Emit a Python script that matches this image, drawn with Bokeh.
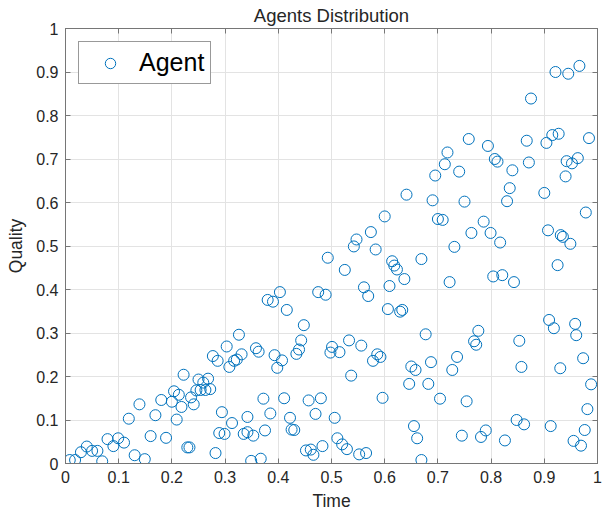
from bokeh.plotting import figure
from bokeh.models import (LinearAxis, FixedTicker, CustomJSTickFormatter, Legend,
                          LegendItem, Range1d)
from bokeh.embed import file_html
from bokeh.resources import INLINE

# ---- data ----
agent_time = [
    0.008, 0.018, 0.029, 0.040, 0.050, 0.060, 0.069, 0.079, 0.090, 0.099,
    0.110, 0.119, 0.130, 0.139, 0.149, 0.160, 0.169, 0.180, 0.189, 0.200,
    0.204, 0.209, 0.213, 0.218, 0.222, 0.229, 0.233, 0.236, 0.241, 0.246,
    0.250, 0.254, 0.259, 0.263, 0.268, 0.272, 0.277, 0.282, 0.286, 0.289,
    0.294, 0.299, 0.303, 0.308, 0.313, 0.317, 0.322, 0.326, 0.331, 0.335,
    0.342, 0.342,
    0.416, 0.448, 0.443, 0.358, 0.363, 0.439, 0.434, 0.393, 0.407, 0.398,
    0.501, 0.498, 0.515, 0.533, 0.556, 0.586, 0.592, 0.578, 0.537, 0.606,
    0.629, 0.633, 0.650, 0.658, 0.646, 0.596, 0.372, 0.411, 0.457, 0.480,
    0.385, 0.422, 0.470, 0.506, 0.375, 0.353, 0.425, 0.430, 0.511, 0.520,
    0.529, 0.655, 0.661, 0.452, 0.461, 0.466, 0.483, 0.552, 0.565, 0.349,
    0.367, 0.669,
    0.909, 0.918, 0.958, 0.960, 0.677, 0.776, 0.768, 0.772, 0.853, 0.736,
    0.687, 0.727, 0.857, 0.930, 0.973, 0.682, 0.988, 0.704, 0.754, 0.981,
    0.848, 0.862, 0.912, 0.745, 0.781, 0.790, 0.826, 0.976, 0.955, 0.969,
    0.641, 0.600, 0.574, 0.547, 0.542, 0.583, 0.493, 0.614, 0.618, 0.623,
    0.669, 0.525, 0.637, 0.609, 0.561, 0.569, 0.403, 0.380, 0.390, 0.475,
    0.489,
    0.695, 0.740, 0.713, 0.840, 0.940, 0.952, 0.835, 0.900, 0.690, 0.750,
    0.830, 0.978, 0.700, 0.709, 0.786, 0.763, 0.799, 0.817, 0.907, 0.931,
    0.935, 0.949, 0.731, 0.925, 0.722, 0.804, 0.821, 0.843,
    0.921, 0.945, 0.966, 0.875, 0.758, 0.794, 0.867, 0.904, 0.915, 0.927,
    0.984, 0.718, 0.807, 0.812, 0.871, 0.942, 0.963,
]
agent_quality = [
    0.008, 0.008, 0.026, 0.039, 0.029, 0.029, 0.005, 0.056, 0.040, 0.058,
    0.048, 0.103, 0.019, 0.136, 0.010, 0.063, 0.111, 0.146, 0.059, 0.142,
    0.166, 0.101, 0.158, 0.130, 0.204, 0.037, 0.037, 0.152, 0.136, 0.168,
    0.193, 0.169, 0.186, 0.169, 0.195, 0.171, 0.247, 0.024, 0.236, 0.070,
    0.118, 0.068, 0.269, 0.222, 0.093, 0.236, 0.239, 0.296, 0.251, 0.068,
    0.072, 0.107,
    0.353, 0.318, 0.283, 0.265, 0.257, 0.262, 0.252, 0.249, 0.237, 0.220,
    0.268, 0.255, 0.256, 0.283, 0.271, 0.251, 0.245, 0.236, 0.202, 0.355,
    0.349, 0.353, 0.223, 0.215, 0.183, 0.151, 0.149, 0.150, 0.145, 0.150,
    0.115, 0.105, 0.114, 0.105, 0.076, 0.064, 0.078, 0.077, 0.058, 0.044,
    0.033, 0.086, 0.058, 0.030, 0.032, 0.020, 0.040, 0.021, 0.024, 0.006,
    0.011, 0.008,
    0.330, 0.311, 0.321, 0.295, 0.297, 0.305, 0.281, 0.273, 0.282, 0.245,
    0.233, 0.215, 0.222, 0.219, 0.242, 0.183, 0.182, 0.149, 0.143, 0.125,
    0.100, 0.090, 0.086, 0.064, 0.061, 0.076, 0.053, 0.077, 0.052, 0.041,
    0.618, 0.568, 0.532, 0.515, 0.499, 0.492, 0.473, 0.465, 0.455, 0.446,
    0.470, 0.445, 0.424, 0.408, 0.405, 0.385, 0.394, 0.376, 0.372, 0.394,
    0.388,
    0.662, 0.671, 0.688, 0.674, 0.660, 0.690, 0.633, 0.622, 0.605, 0.602,
    0.603, 0.577, 0.562, 0.560, 0.556, 0.530, 0.530, 0.508, 0.536, 0.525,
    0.521, 0.505, 0.498, 0.456, 0.417, 0.430, 0.433, 0.417,
    0.900, 0.896, 0.914, 0.839, 0.746, 0.730, 0.742, 0.737, 0.755, 0.758,
    0.748, 0.715, 0.700, 0.694, 0.692, 0.695, 0.702,
]
tick_values = [0, 0.1, 0.2, 0.3, 0.4, 0.5, 0.6, 0.7, 0.8, 0.9, 1]
series_name = "Agent"
chart_title = "Agents Distribution"
x_label = "Time"
y_label = "Quality"

FONT = "Liberation Sans"
TEXT = "#262626"
AXIS = "#767676"
GRID = "#e3e3e3"
BLUE = "#0072BD"

p = figure(width=603, height=513, output_backend="svg", toolbar_location=None,
           x_range=Range1d(0, 1), y_range=Range1d(0, 1),
           title=chart_title, x_axis_label=x_label, y_axis_label=y_label,
           min_border_left=65, min_border_right=6, min_border_top=27,
           min_border_bottom=50)
p.background_fill_color = "white"
p.border_fill_color = "white"
p.outline_line_color = AXIS
p.outline_line_width = 1

r = p.scatter(agent_time, agent_quality, marker="circle", size=11,
              fill_color=None, line_color=BLUE, line_width=1)

fmt_code = "return String(Math.round(tick*10)/10)"
for ax in (p.xaxis[0], p.yaxis[0]):
    ax.ticker = FixedTicker(ticks=tick_values)
    ax.formatter = CustomJSTickFormatter(code=fmt_code)
    ax.major_tick_in = 5
    ax.major_tick_out = 0
    ax.minor_tick_line_color = None
    ax.axis_line_color = AXIS
    ax.major_tick_line_color = AXIS
    ax.major_label_text_font = FONT
    ax.major_label_text_font_size = "16px"
    ax.major_label_text_color = TEXT
    ax.major_label_standoff = 7
    ax.axis_label_text_font = FONT
    ax.axis_label_text_font_size = "17.5px"
    ax.axis_label_text_font_style = "normal"
    ax.axis_label_text_color = TEXT
p.xaxis[0].axis_label_standoff = 5
p.yaxis[0].axis_label_standoff = 7

for side in ("above", "right"):
    ax = LinearAxis(ticker=FixedTicker(ticks=tick_values),
                    formatter=CustomJSTickFormatter(code="return ''"),
                    major_tick_in=5, major_tick_out=0, major_label_standoff=0,
                    minor_tick_line_color=None, axis_line_color=AXIS,
                    major_tick_line_color=AXIS)
    p.add_layout(ax, side)

p.xgrid.ticker = FixedTicker(ticks=tick_values)
p.ygrid.ticker = FixedTicker(ticks=tick_values)
p.grid.grid_line_color = GRID
p.grid.grid_line_width = 1

p.title.text_font = FONT
p.title.text_font_size = "18.5px"
p.title.text_font_style = "normal"
p.title.text_color = TEXT
p.title.align = "center"
p.title.standoff = 5

legend = Legend(items=[LegendItem(label=series_name, renderers=[r])],
                location="top_left", margin=13, padding=6, spacing=0,
                glyph_width=50, glyph_height=26, label_standoff=4,
                label_text_font=FONT, label_text_font_size="25px",
                label_text_color="#000000",
                border_line_color="#333333", border_line_width=1,
                background_fill_color="white", background_fill_alpha=1)
p.add_layout(legend)

open("out.html", "w").write(file_html(p, INLINE))
